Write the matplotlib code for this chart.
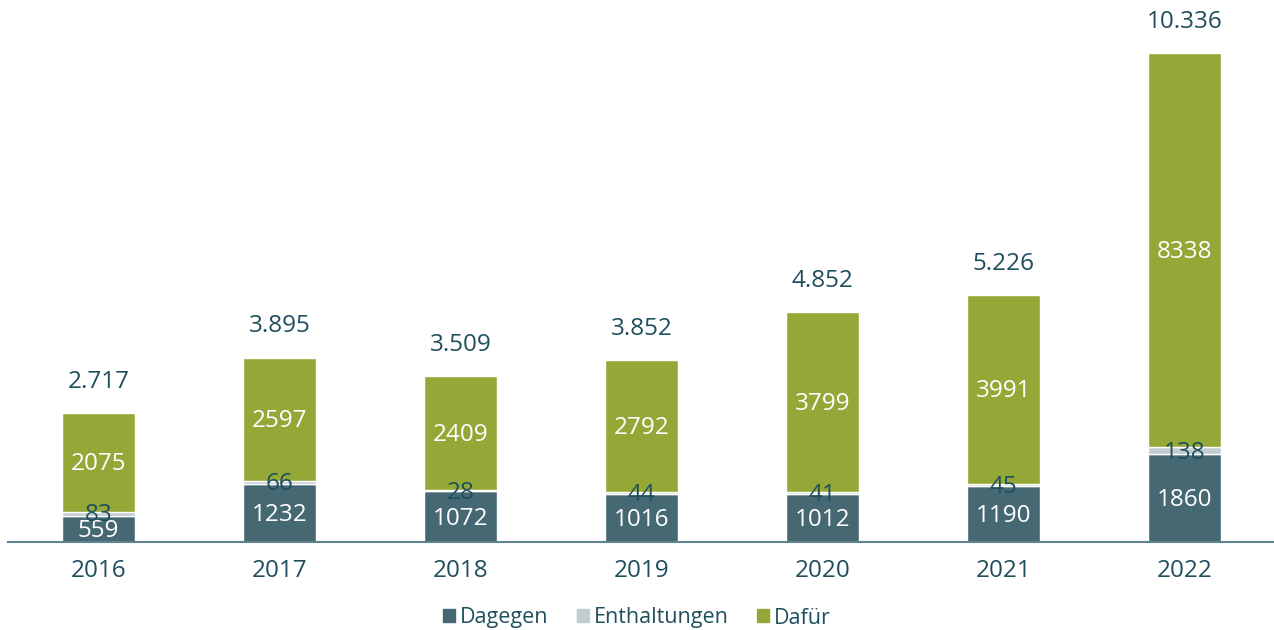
import numpy as np
import matplotlib.pyplot as plt
from matplotlib.patches import Patch

plt.rcParams['font.family'] = ['Open Sans', 'DejaVu Sans']

years = ['2016', '2017', '2018', '2019', '2020', '2021', '2022']
dagegen = [559, 1232, 1072, 1016, 1012, 1190, 1860]
enthaltungen = [83, 66, 28, 44, 41, 45, 138]
dafuer = [2075, 2597, 2409, 2792, 3799, 3991, 8338]
totals = ['2.717', '3.895', '3.509', '3.852', '4.852', '5.226', '10.336']

c_dag = '#456872'
c_ent = '#c0ccd1'
c_daf = '#94a838'
c_text = '#1f4e5c'

x = np.arange(len(years))
w = 0.4
dag = np.array(dagegen)
ent = np.array(enthaltungen)
daf = np.array(dafuer)

fig = plt.figure(figsize=(12.74, 6.3), dpi=100)
ax = fig.add_axes([8 / 1274, 88 / 630, 1267 / 1274, 542 / 630])

ax.bar(x, dag, w, color=c_dag, edgecolor='white', linewidth=1)
ax.bar(x, ent, w, bottom=dag, color=c_ent, edgecolor='white', linewidth=1)
ax.bar(x, daf, w, bottom=dag + ent, color=c_daf, edgecolor='white', linewidth=1)

fs = 17.5
for i in range(len(years)):
    ax.text(x[i], dag[i] / 2 - 50, str(dag[i]), ha='center', va='center',
            color='white', fontsize=fs)
    ax.text(x[i], dag[i] + ent[i] / 2 - 40, str(ent[i]), ha='center', va='center',
            color=c_text, fontsize=fs)
    ax.text(x[i], dag[i] + ent[i] + daf[i] / 2 - 40, str(daf[i]), ha='center',
            va='center', color='white', fontsize=fs)
    ax.text(x[i], dag[i] + ent[i] + daf[i] + 660, totals[i], ha='center',
            va='center', color=c_text, fontsize=fs)

ax.set_xlim(-0.5, 6.5)
ax.set_ylim(0, 11456)
ax.set_xticks(x)
ax.set_xticklabels(years, fontsize=fs, color=c_text)
ax.tick_params(axis='x', length=0, pad=12)
ax.set_yticks([])
for s in ['top', 'right', 'left']:
    ax.spines[s].set_visible(False)
ax.spines['bottom'].set_color('#5f8490')
ax.spines['bottom'].set_linewidth(1.5)

handles = [Patch(color=c_dag, label='Dagegen'),
           Patch(color=c_ent, label='Enthaltungen'),
           Patch(color=c_daf, label='Dafür')]
leg = fig.legend(handles=handles, loc='center', bbox_to_anchor=(0.5, 12 / 630),
                 ncol=3, frameon=False, fontsize=15.5, handlelength=0.55,
                 handleheight=0.55, handletextpad=0.25, columnspacing=1.3)
for t in leg.get_texts():
    t.set_color(c_text)

fig.savefig('out.png', dpi=100)
